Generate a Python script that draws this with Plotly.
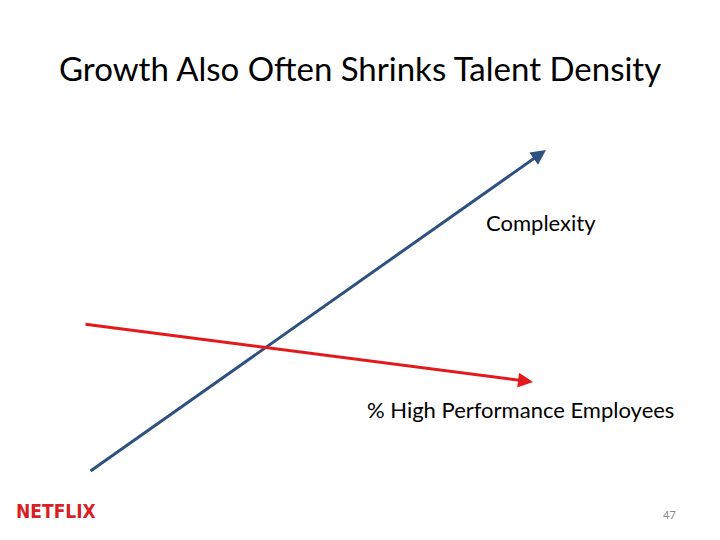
import plotly.graph_objects as go

# Data (slide coordinate units: x rightwards, y downwards on a 720x540 canvas)
series_names = ["Complexity", "% High Performance Employees"]
complexity_x = [89, 546]
complexity_y = [472, 150]
hpe_x = [84, 533]
hpe_y = [324, 382]
series_colors = ["#2F5180", "#E3191C"]

title_text = "Growth Also Often Shrinks Talent Density"
page_number = "47"

fig = go.Figure()

fig.add_trace(go.Scatter(x=complexity_x, y=complexity_y, mode="lines",
                         line=dict(color="rgba(0,0,0,0)"), hoverinfo="skip", showlegend=False))
fig.add_trace(go.Scatter(x=hpe_x, y=hpe_y, mode="lines",
                         line=dict(color="rgba(0,0,0,0)"), hoverinfo="skip", showlegend=False))

for xs, ys, col in [(complexity_x, complexity_y, series_colors[0]), (hpe_x, hpe_y, series_colors[1])]:
    fig.add_annotation(x=xs[1], y=ys[1], ax=xs[0], ay=ys[0], xref="x", yref="y",
                       axref="x", ayref="y", showarrow=True, arrowhead=2, arrowsize=1.0,
                       arrowwidth=3, arrowcolor=col, text="")

fig.add_annotation(x=541, y=222, xref="x", yref="y", text=series_names[0], showarrow=False,
                   font=dict(family="Lato, Open Sans, sans-serif", size=22, color="#000000"))
fig.add_annotation(x=520, y=409, xref="x", yref="y", text=series_names[1], showarrow=False,
                   font=dict(family="Lato, Open Sans, sans-serif", size=22, color="#000000"))
fig.add_annotation(x=360, y=68, xref="x", yref="y", text=title_text, showarrow=False,
                   font=dict(family="Lato, Open Sans, sans-serif", size=33, color="#000000"))
fig.add_annotation(x=669, y=514, xref="x", yref="y", text=page_number, showarrow=False,
                   font=dict(family="Lato, sans-serif", size=11, color="#888888"))
fig.add_annotation(x=56, y=511, xref="x", yref="y", text="<b>NETFLIX</b>", showarrow=False,
                   font=dict(family="Liberation Sans Narrow, DejaVu Sans Condensed, sans-serif", size=19, color="#D81F26"))

fig.update_xaxes(range=[0, 720], visible=False, fixedrange=True)
fig.update_yaxes(range=[540, 0], visible=False, fixedrange=True)
fig.update_layout(width=720, height=540, margin=dict(l=0, r=0, t=0, b=0),
                  plot_bgcolor="white", paper_bgcolor="white", showlegend=False)

fig.write_html("out.html", config={"displayModeBar": False},
               post_script="document.body.style.margin='0';document.body.style.overflow='hidden';")
